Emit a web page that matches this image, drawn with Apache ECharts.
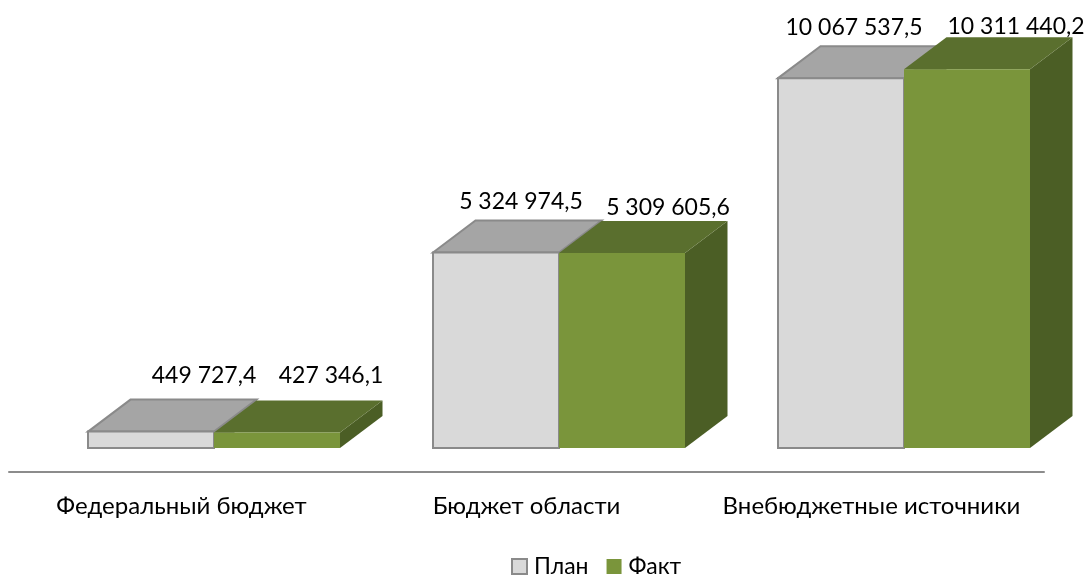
<!DOCTYPE html>
<html>
<head>
<meta charset="utf-8">
<script src="https://cdn.jsdelivr.net/npm/echarts@6/dist/echarts.min.js"></script>
<style>
 html, body { margin: 0; padding: 0; background: #fff; }
 #chart { width: 1090px; height: 576px; }
</style>
</head>
<body>
<div id="chart"></div>
<script>
var categories = ['Федеральный бюджет', 'Бюджет области', 'Внебюджетные источники'];
var planValues = [449727.4, 5324974.5, 10067537.5];
var factValues = [427346.1, 5309605.6, 10311440.2];

var FONT = 'Lato, "Open Sans", sans-serif';
var BAR_WIDTH = 126;
var DEPTH_X = 42.5, DEPTH_Y = 32;  //глубина 3D
var SHIFT_X = 32.5;                //передняя грань сдвинута вправо от центра категории

//подписи стоят не по правилу, сдвиг от центра передней грани и её верха
var planLabelShift = [[53, -56], [25, -51], [13, -51]];
var factLabelShift = [[54, -57], [46, -45], [49, -43]];

function formatValue(v) {
  var parts = v.toFixed(1).split('.');
  return parts[0].replace(/\B(?=(\d{3})+$)/g, ' ') + ',' + parts[1];
}

function barRenderer(side, colors, labelShift) {
  return function (params, api) {
    var idx = api.value(0);
    var top = api.coord([idx, api.value(1)]);
    var base = api.coord([idx, 0]);
    var x0 = top[0] + SHIFT_X + (side === 'plan' ? -BAR_WIDTH : 0);
    var x1 = x0 + BAR_WIDTH;
    var yTop = top[1], yBase = base[1];
    var shift = labelShift[idx];
    return {
      type: 'group',
      children: [
        {
          type: 'polygon',
          shape: {points: [[x1, yTop], [x1 + DEPTH_X, yTop - DEPTH_Y], [x1 + DEPTH_X, yBase - DEPTH_Y], [x1, yBase]]},
          style: {fill: colors.side}
        },
        {
          type: 'polygon',
          shape: {points: [[x0, yTop], [x0 + DEPTH_X, yTop - DEPTH_Y], [x1 + DEPTH_X, yTop - DEPTH_Y], [x1, yTop]]},
          style: {fill: colors.top, stroke: colors.stroke, lineWidth: colors.lineWidth}
        },
        {
          type: 'rect',
          shape: {x: x0, y: yTop, width: BAR_WIDTH, height: yBase - yTop},
          style: {fill: colors.front, stroke: colors.stroke, lineWidth: colors.lineWidth}
        },
        {
          type: 'text',
          z2: 10,
          style: {
            x: (x0 + x1) / 2 + shift[0],
            y: yTop + shift[1],
            text: formatValue(api.value(1)),
            fill: '#000',
            font: '23px ' + FONT,
            align: 'center',
            verticalAlign: 'middle'
          }
        }
      ]
    };
  };
}

var planColors = {front: '#d9d9d9', top: '#a5a5a5', side: '#8f8f8f', stroke: '#8a8a8a', lineWidth: 2};
var factColors = {front: '#7a953b', top: '#5a6f2e', side: '#4b5e25', stroke: null, lineWidth: 0};

function toData(values) {
  return values.map(function (v, i) { return [i, v]; });
}

var chart = echarts.init(document.getElementById('chart'));
chart.setOption({
  animation: false,
  grid: {left: 9, right: 46, top: 20, bottom: 104},
  legend: {
    top: 555,
    left: 511,
    padding: 0,
    itemWidth: 15,
    itemHeight: 15,
    itemGap: 18,
    textStyle: {color: '#000', fontFamily: FONT, fontSize: 23, padding: [0, 0, 0, 2]},
    data: [
      {name: 'План', icon: 'rect', itemStyle: {color: '#d9d9d9', borderColor: '#8a8a8a', borderWidth: 2}},
      {name: 'Факт', icon: 'rect', itemStyle: {color: '#7a953b', borderWidth: 0}}
    ]
  },
  xAxis: {
    type: 'category',
    data: categories,
    axisTick: {show: false},
    axisLine: {onZero: false, lineStyle: {color: '#8c8c8c', width: 2}},
    axisLabel: {color: '#000', fontFamily: FONT, fontSize: 24, margin: 22, interval: 0}
  },
  yAxis: {
    type: 'value',
    show: false,
    min: -650000,
    max: 11650000
  },
  series: [
    {
      name: 'План',
      type: 'custom',
      renderItem: barRenderer('plan', planColors, planLabelShift),
      encode: {x: 0, y: 1},
      itemStyle: {color: '#d9d9d9'},
      data: toData(planValues)
    },
    {
      name: 'Факт',
      type: 'custom',
      renderItem: barRenderer('fact', factColors, factLabelShift),
      encode: {x: 0, y: 1},
      itemStyle: {color: '#7a953b'},
      data: toData(factValues)
    }
  ]
});
</script>
</body>
</html>
